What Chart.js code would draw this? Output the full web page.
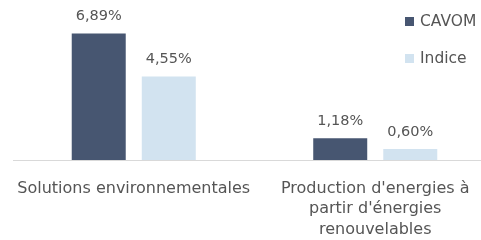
<!DOCTYPE html>
<html>
<head>
<meta charset="utf-8">
<script src="https://cdn.jsdelivr.net/npm/chart.js@4/dist/chart.umd.min.js"></script>
<style>
    html, body { margin: 0; padding: 0; background: #fff; overflow: hidden; }
    #wrap { position: relative; width: 496px; height: 240px; }
    #legend { position: absolute; left: 405px; top: 12px; font-family: "DejaVu Sans", sans-serif; font-size: 15.5px; color: #555; }
    #legend div { display: flex; align-items: center; height: 18px; margin-bottom: 19px; }
    #legend span.box { display: inline-block; width: 9px; height: 9px; margin-right: 6px; }
</style>
</head>
<body>
<div id="wrap">
    <canvas id="chart" width="496" height="240"></canvas>
    <div id="legend"></div>
</div>
<script>
    // Data
    const categories = [
        'Solutions environnementales',
        ['Production d\'energies à', 'partir d\'énergies', 'renouvelables']
    ];
    const seriesNames = ['CAVOM', 'Indice'];
    const cavomValues = [6.89, 1.18];
    const indiceValues = [4.55, 0.60];
    const colors = ['#475671', '#d2e3f0'];

    // Legend (html)
    document.getElementById('legend').innerHTML = seriesNames.map((name, i) =>
        `<div><span class="box" style="background:${colors[i]}"></span>${name}</div>`
    ).join('');

    // Value labels above bars
    const valueLabels = {
        id: 'valueLabels',
        afterDatasetsDraw(chart) {
            const ctx = chart.ctx;
            ctx.save();
            ctx.font = '14.5px "DejaVu Sans", sans-serif';
            ctx.fillStyle = '#555';
            ctx.textAlign = 'center';
            ctx.textBaseline = 'middle';
            chart.data.datasets.forEach((ds, i) => {
                chart.getDatasetMeta(i).data.forEach((bar, j) => {
                    const txt = ds.data[j].toFixed(2).replace('.', ',') + '%';
                    ctx.fillText(txt, bar.x, bar.y - 17);
                });
            });
            ctx.restore();
        }
    };

    const ctx = document.getElementById('chart').getContext('2d');
    new Chart(ctx, {
        type: 'bar',
        data: {
            labels: categories,
            datasets: [{
                label: seriesNames[0],
                data: cavomValues,
                backgroundColor: colors[0],
                categoryPercentage: 0.58,
                barPercentage: 0.771
            }, {
                label: seriesNames[1],
                data: indiceValues,
                backgroundColor: colors[1],
                categoryPercentage: 0.58,
                barPercentage: 0.771
            }]
        },
        options: {
            responsive: false,
            animation: false,
            layout: { padding: { left: 13, top: 13, right: 0, bottom: 0 } },
            plugins: {
                legend: { display: false },
                tooltip: { enabled: false }
            },
            scales: {
                y: {
                    display: false,
                    min: 0,
                    max: 8
                },
                x: {
                    grid: { display: false },
                    border: { display: true, color: '#d9d9d9', width: 1 },
                    ticks: {
                        color: '#555',
                        padding: 10,
                        maxRotation: 0,
                        autoSkip: false,
                        font: { family: '"DejaVu Sans", sans-serif', size: 16, lineHeight: 1.3 }
                    },
                    afterFit: function(scale) { scale.height = 80; }
                }
            }
        },
        plugins: [valueLabels]
    });
</script>
</body>
</html>
